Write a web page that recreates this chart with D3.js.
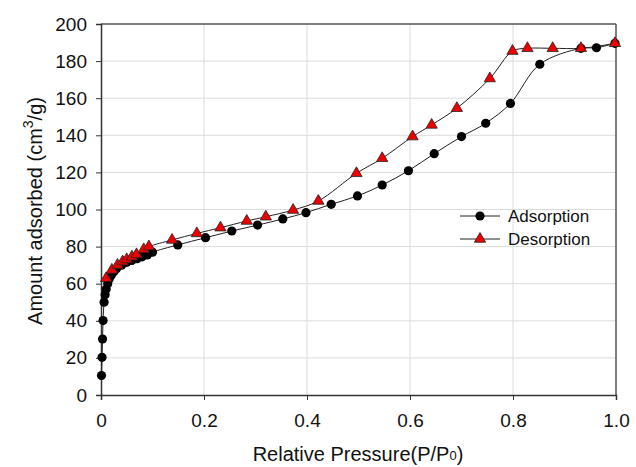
<!DOCTYPE html>
<html><head><meta charset="utf-8">
<script src="https://cdn.jsdelivr.net/npm/d3@7"></script>
<style>body{margin:0;background:#fff}svg{display:block}</style>
</head><body>
<svg id="c" width="636" height="467"></svg>
<script>
const adsX = [0.001,0.002,0.003,0.004,0.006,0.008,0.010,0.013,0.016,0.020,0.025,0.030,0.040,0.050,0.060,0.070,0.080,0.090,0.100,0.149,0.203,0.254,0.304,0.353,0.398,0.447,0.498,0.546,0.597,0.647,0.700,0.747,0.795,0.852,0.932,0.962,0.998];
const adsY = [10.5,20.3,30.2,40.1,50.0,54.0,57.0,60.0,62.5,64.5,66.5,68.0,70.0,71.5,72.5,73.5,74.5,75.5,77.0,80.9,84.8,88.4,91.6,94.9,98.3,102.8,107.3,113.2,120.9,130.1,139.3,146.5,157.2,178.3,186.9,187.2,189.6];
const desX = [0.010,0.021,0.032,0.042,0.050,0.060,0.069,0.083,0.093,0.138,0.186,0.232,0.283,0.320,0.373,0.422,0.496,0.546,0.605,0.642,0.691,0.755,0.799,0.828,0.877,0.932,0.998];
const desY = [62.9,67.4,70.1,71.9,73.1,74.5,75.8,78.5,80.0,83.6,87.1,90.2,93.8,96.1,99.7,104.6,119.5,127.6,139.3,145.6,154.6,170.6,185.4,186.9,186.9,186.9,189.6];
const xTicks = [0,0.2,0.4,0.6,0.8,1.0];
const xTickLabels = ["0","0.2","0.4","0.6","0.8","1.0"];
const yTicks = [0,20,40,60,80,100,120,140,160,180,200];
const seriesNames = ["Adsorption","Desorption"];

const svg = d3.select("#c");
const L=101,R=616,T=24,B=395;
const x = d3.scaleLinear().domain([0,1]).range([L,R]);
const y = d3.scaleLinear().domain([0,200]).range([B,T]);
const font = "Liberation Sans, Arial, sans-serif";

// grid
svg.append("g").selectAll("line").data(yTicks.slice(1,-1)).join("line")
  .attr("x1",L).attr("x2",R).attr("y1",d=>y(d)).attr("y2",d=>y(d))
  .attr("stroke","#dcdcdc").attr("stroke-width",1);
svg.append("g").selectAll("line").data(xTicks.slice(1,-1)).join("line")
  .attr("y1",T).attr("y2",B).attr("x1",d=>x(d)).attr("x2",d=>x(d))
  .attr("stroke","#dcdcdc").attr("stroke-width",1);

// frame top/right
svg.append("line").attr("x1",L).attr("x2",R).attr("y1",T).attr("y2",T).attr("stroke","#555").attr("stroke-width",1.5);
svg.append("line").attr("x1",R).attr("x2",R).attr("y1",T).attr("y2",B).attr("stroke","#555").attr("stroke-width",1.5);

// axes
const xAxis = d3.axisBottom(x).tickValues(xTicks).tickFormat((d,i)=>xTickLabels[i]).tickSizeOuter(0).tickSize(5).tickPadding(14);
const gx = svg.append("g").attr("transform",`translate(0,${B})`).call(xAxis);
const yAxis = d3.axisLeft(y).tickValues(yTicks).tickSizeOuter(0).tickSize(5).tickPadding(9);
const gy = svg.append("g").attr("transform",`translate(${L},0)`).call(yAxis);
[gx,gy].forEach(g=>{
  g.select(".domain").attr("stroke","#333").attr("stroke-width",1.5);
  g.selectAll(".tick line").attr("stroke","#333");
  g.selectAll(".tick text").attr("font-family",font).attr("font-size",19).attr("fill","#111");
});

// lines
const line = d3.line().x(d=>x(d[0])).y(d=>y(d[1])).curve(d3.curveCatmullRom.alpha(0.5));
const ads = adsX.map((v,i)=>[v,adsY[i]]);
const des = desX.map((v,i)=>[v,desY[i]]);
svg.append("path").datum(ads).attr("d",line).attr("fill","none").attr("stroke","#222").attr("stroke-width",1);
svg.append("path").datum(des).attr("d",line).attr("fill","none").attr("stroke","#222").attr("stroke-width",1);

const tri = d3.symbol().type(d3.symbolTriangle).size(55);
svg.append("g").selectAll("circle").data(ads).join("circle")
  .attr("cx",d=>x(d[0])).attr("cy",d=>y(d[1])).attr("r",4.6).attr("fill","#000");
svg.append("g").selectAll("path").data(des).join("path")
  .attr("d",tri).attr("transform",d=>`translate(${x(d[0])},${y(d[1])})`)
  .attr("fill","#ee0000").attr("stroke","#222").attr("stroke-width",0.8);

// legend
const lg = svg.append("g").attr("font-family",font).attr("font-size",17).attr("fill","#111");
const ly=[216,239];
lg.append("line").attr("x1",460).attr("x2",500).attr("y1",ly[0]).attr("y2",ly[0]).attr("stroke","#222");
lg.append("circle").attr("cx",480).attr("cy",ly[0]).attr("r",4.6).attr("fill","#000");
lg.append("line").attr("x1",460).attr("x2",500).attr("y1",ly[1]).attr("y2",ly[1]).attr("stroke","#222");
lg.append("path").attr("d",tri).attr("transform",`translate(480,${ly[1]})`).attr("fill","#ee0000").attr("stroke","#222").attr("stroke-width",0.8);
seriesNames.forEach((n,i)=>lg.append("text").attr("x",508).attr("y",ly[i]+6).text(n));

// axis titles
const xt = svg.append("text").attr("x",358).attr("y",461).attr("text-anchor","middle")
  .attr("font-family",font).attr("font-size",20).attr("fill","#111");
xt.append("tspan").text("Relative Pressure(P/P");
xt.append("tspan").attr("font-size",13).attr("dy",-1).text("0");
xt.append("tspan").attr("dy",1).text(")");
const yt = svg.append("text").attr("transform","translate(42,211) rotate(-90)").attr("text-anchor","middle")
  .attr("font-family",font).attr("font-size",20).attr("fill","#111");
yt.append("tspan").text("Amount adsorbed (cm");
yt.append("tspan").attr("font-size",14).attr("dy",-9).text("3");
yt.append("tspan").attr("dy",9).text("/g)");
</script>
</body></html>
